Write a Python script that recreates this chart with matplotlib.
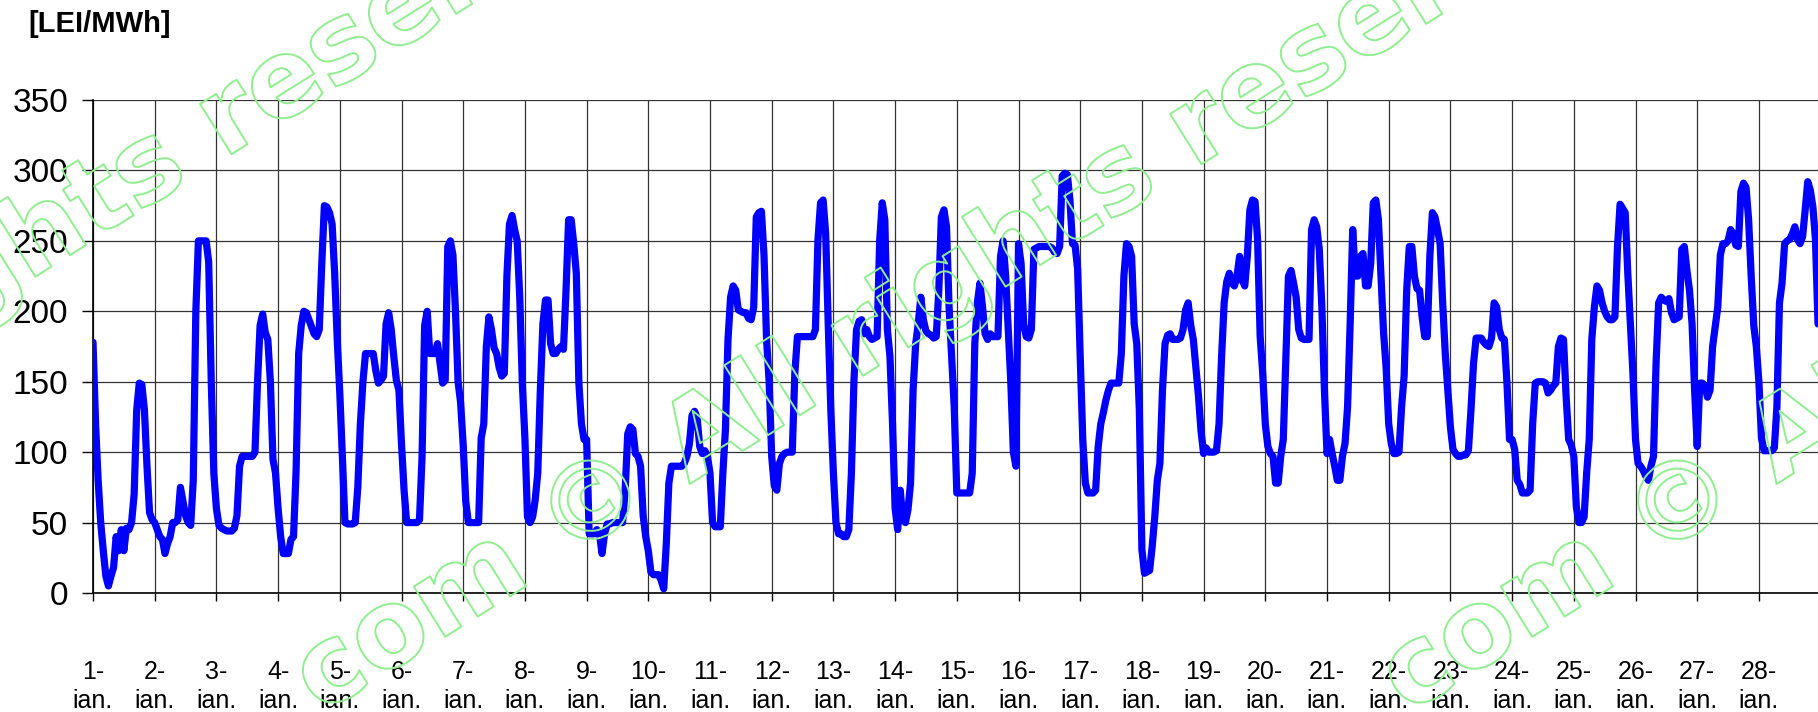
import matplotlib
matplotlib.use("Agg")
import matplotlib.pyplot as plt
import matplotlib.patheffects as pe
import numpy as np

plt.rcParams['font.family'] = ['Liberation Sans', 'DejaVu Sans']

# hourly price [LEI/MWh], one list per day, 1-28 ian.
d01 = [178, 120, 80, 50, 30, 12, 5, 12, 18, 40, 30, 45, 30, 46, 45, 50, 70, 130, 149, 148, 130, 90, 57, 52]
d02 = [50, 45, 40, 38, 28, 35, 40, 50, 50, 52, 75, 65, 55, 50, 48, 80, 200, 250, 250, 250, 250, 235, 150, 85]
d03 = [60, 48, 46, 45, 44, 44, 44, 46, 55, 90, 97, 97, 97, 97, 97, 100, 150, 190, 198, 185, 180, 150, 95, 85]
d04 = [60, 40, 28, 28, 28, 38, 40, 87, 170, 190, 200, 199, 194, 189, 184, 182, 187, 234, 275, 274, 270, 262, 227, 180]
d05 = [142, 97, 50, 49, 49, 49, 50, 75, 120, 150, 170, 170, 170, 170, 158, 149, 151, 154, 191, 199, 187, 168, 151, 144]
d06 = [106, 73, 50, 50, 50, 50, 50, 52, 97, 190, 200, 170, 170, 170, 177, 163, 149, 151, 246, 250, 240, 200, 150, 135]
d07 = [105, 65, 50, 50, 50, 50, 50, 110, 120, 175, 196, 187, 174, 170, 160, 154, 156, 225, 262, 268, 258, 250, 210, 149]
d08 = [110, 54, 50, 54, 66, 85, 144, 191, 208, 208, 177, 170, 170, 173, 175, 173, 215, 265, 265, 248, 227, 149, 120, 109]
d09 = [109, 42, 42, 42, 45, 42, 28, 42, 49, 49, 50, 50, 50, 50, 50, 73, 113, 118, 116, 99, 97, 90, 55, 40]
d10 = [30, 15, 13, 13, 13, 9, 3, 35, 78, 90, 90, 90, 90, 90, 92, 97, 106, 126, 129, 124, 104, 99, 101, 97]
d11 = [85, 50, 47, 47, 47, 85, 116, 180, 210, 218, 215, 201, 200, 199, 199, 195, 194, 203, 267, 270, 271, 240, 180, 150]
d12 = [97, 76, 73, 92, 97, 99, 100, 100, 100, 156, 182, 182, 182, 182, 182, 182, 182, 187, 251, 277, 279, 255, 190, 130]
d13 = [85, 50, 42, 42, 40, 40, 45, 85, 151, 187, 193, 194, 184, 187, 182, 180, 181, 182, 250, 277, 265, 187, 168, 120]
d14 = [60, 45, 73, 52, 50, 59, 78, 144, 177, 191, 210, 194, 186, 184, 183, 181, 182, 215, 267, 272, 260, 203, 168, 132]
d15 = [71, 71, 71, 71, 71, 71, 85, 177, 206, 220, 203, 184, 180, 184, 182, 182, 182, 239, 250, 225, 187, 150, 100, 90]
d16 = [248, 234, 191, 182, 181, 187, 244, 245, 246, 246, 246, 246, 246, 245, 242, 241, 246, 296, 298, 297, 279, 248, 247, 230]
d17 = [168, 109, 78, 71, 71, 71, 73, 104, 120, 128, 137, 144, 149, 149, 149, 149, 170, 225, 248, 246, 239, 191, 177, 130]
d18 = [31, 14, 15, 16, 33, 54, 80, 92, 144, 177, 183, 184, 180, 180, 180, 181, 187, 201, 206, 190, 180, 160, 140, 115]
d19 = [99, 103, 100, 100, 100, 101, 120, 168, 206, 221, 227, 220, 218, 225, 239, 222, 218, 239, 272, 279, 278, 251, 182, 156]
d20 = [120, 104, 99, 97, 78, 78, 97, 109, 168, 225, 229, 220, 210, 187, 181, 180, 180, 180, 258, 265, 260, 244, 203, 144]
d21 = [99, 109, 99, 90, 80, 80, 97, 106, 132, 191, 258, 225, 225, 239, 241, 218, 218, 234, 277, 279, 265, 225, 185, 160]
d22 = [120, 106, 99, 99, 100, 132, 154, 215, 246, 246, 225, 216, 215, 196, 182, 182, 239, 270, 267, 258, 248, 206, 170, 144]
d23 = [118, 102, 99, 97, 97, 98, 98, 101, 130, 163, 181, 181, 181, 178, 176, 175, 181, 206, 203, 187, 181, 180, 149, 109]
d24 = [109, 102, 80, 77, 71, 71, 71, 73, 120, 149, 150, 150, 150, 149, 142, 144, 147, 149, 175, 181, 180, 140, 109, 105]
d25 = [97, 61, 50, 50, 54, 85, 109, 180, 203, 218, 215, 206, 200, 196, 194, 194, 196, 246, 276, 273, 270, 227, 191, 156]
d26 = [109, 92, 90, 87, 83, 80, 90, 97, 163, 206, 210, 208, 207, 209, 199, 194, 195, 196, 244, 246, 229, 215, 191, 144]
d27 = [104, 149, 149, 147, 139, 144, 175, 189, 203, 240, 248, 248, 250, 258, 255, 247, 246, 285, 291, 288, 265, 225, 190, 175]
d28 = [150, 110, 101, 101, 101, 101, 103, 132, 206, 220, 248, 250, 251, 255, 260, 251, 248, 253, 272, 292, 286, 274, 251, 191]

days = [d01, d02, d03, d04, d05, d06, d07, d08, d09, d10, d11, d12, d13, d14,
        d15, d16, d17, d18, d19, d20, d21, d22, d23, d24, d25, d26, d27, d28]
day_labels = [f"{i}-\nian." for i in range(1, 29)]
y_ticks = [0, 50, 100, 150, 200, 250, 300, 350]
unit = "[LEI/MWh]"
watermark = "com © All rights reserved"

price = np.concatenate(days)
t = np.arange(len(price)) / 24.0  # in days from 1 ian.

W, H = 1818, 712
fig = plt.figure(figsize=(W / 100, H / 100), dpi=100)
ax = fig.add_axes([93 / W, 119 / H, 28 * 61.7 / W, 493 / H])

ax.plot(t, price, color='#0000ff', lw=5.2, solid_joinstyle='round',
        solid_capstyle='round', zorder=3)

ax.set_xlim(0, 28)
ax.set_ylim(0, 350)
ax.set_xticks(np.arange(28))
ax.set_xticklabels(day_labels, fontsize=18, linespacing=1.3)
ax.set_yticks(y_ticks)
ax.tick_params(axis='y', labelsize=24, length=8, width=1, pad=10)
ax.tick_params(axis='x', length=6, width=1, pad=42)
ax.grid(True, color='#333333', lw=0.9)
ax.set_axisbelow(True)
for s in ['top', 'right']:
    ax.spines[s].set_visible(False)
for s in ['left', 'bottom']:
    ax.spines[s].set_linewidth(1.2)
    ax.spines[s].set_color('black')

fig.text(28 / W, 1 - 10 / H, unit, fontsize=21, fontweight='bold',
         ha='left', va='top')

# watermark, outlined green text, three copies
ang = 32
for dx, dy in [(0, 0), (-970, -10), (1087, 0)]:
    x0, y0 = 320 + dx, 715 + dy
    fig.text(x0 / W, 1 - y0 / H, watermark, fontsize=78, fontweight='bold',
             family='DejaVu Sans', rotation=ang, rotation_mode='anchor',
             ha='left', va='baseline', color='none', zorder=10,
             path_effects=[pe.Stroke(linewidth=1.4, foreground='#90ee90')])

fig.savefig('out.png', dpi=100)
